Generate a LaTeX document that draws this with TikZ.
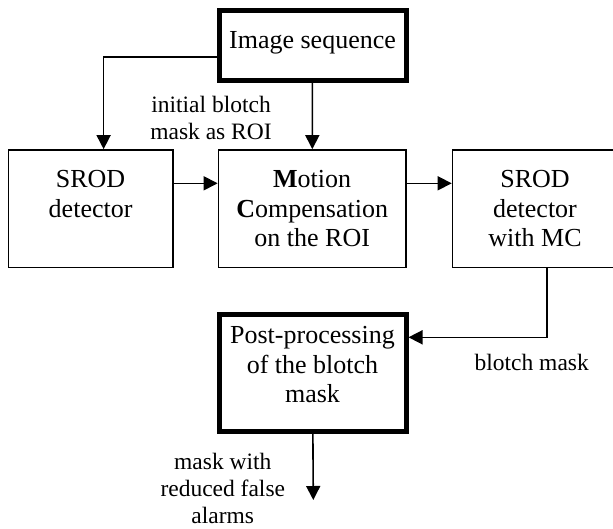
\documentclass[tikz,border=0pt]{standalone}
\usepackage{fontspec}
\setmainfont{Liberation Serif}
\usetikzlibrary{arrows.meta,calc,positioning}

\begin{document}
\begin{tikzpicture}[x=1pt,y=-1pt,
  box/.style={draw=black,line width=1.6pt,fill=white,align=center,inner sep=0pt,
    minimum height=117.5pt,font=\fontsize{26}{29.5}\selectfont},
  thickbox/.style={box,line width=5pt},
  arr/.style={-{Triangle[length=14pt,width=14pt]},black,line width=1.6pt},
  lbl/.style={align=center,inner sep=0pt,font=\fontsize{23.5}{26.7}\selectfont}
]
  \useasboundingbox (0,0) rectangle (613,528);
  \clip (0,0) rectangle (613,528);
  \node[thickbox,minimum width=187pt,minimum height=70pt] (img) at (312.5,45) {Image sequence\\[-19.5pt]\mbox{}};
  \node[box,minimum width=164.2pt] (srod) at (90.6,208.7) {SROD\\detector\\\mbox{}};
  \node[box,minimum width=187.5pt] (mc) at (312.2,208.7) {\textbf{M}otion\\\textbf{C}ompensation\\on the ROI};
  \node[box,minimum width=165pt] (srodmc) at (535,208.7) {SROD\\detector\\with MC};
  \node[thickbox,minimum width=187pt,minimum height=117pt] (post) at (312.5,372.5) {Post-processing\\of the blotch\\mask\\[-14pt]\mbox{}};
  \coordinate (out) at (313.3,500);
  % connectors
  \draw[arr] ([yshift=-12pt]img.west) -| ([xshift=13pt]srod.north);
  \draw[arr] (img) -- (mc);
  \draw[arr] ([yshift=25.4pt]srod.east) -- ([yshift=25.4pt]mc.west);
  \draw[arr] ([yshift=25.4pt]mc.east) -- ([yshift=25.4pt]srodmc.west);
  \draw[arr] ([xshift=11.7pt]srodmc.south) |- ([yshift=35.2pt]post.east);
  \draw[arr] (post) -- (out);
  % labels
  \node[lbl] (roi) at (211,118) {initial blotch\\mask as ROI};
  \node[lbl] (bmask) at (531.7,362.7) {blotch mask};
  \node[lbl] (final) at (222.8,488.5) {mask with\\reduced false\\alarms};
\end{tikzpicture}
\end{document}
